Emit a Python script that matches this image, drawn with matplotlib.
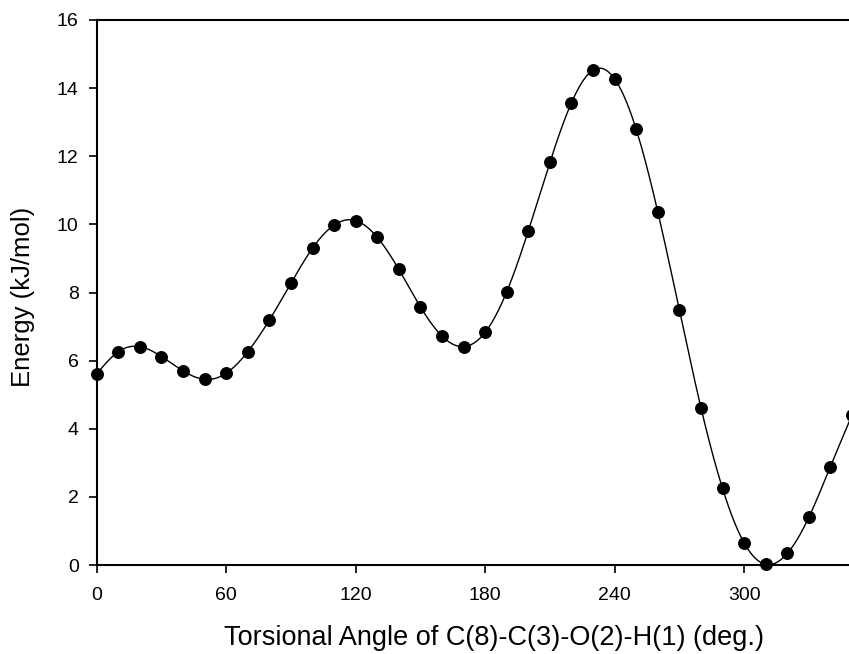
import numpy as np
import matplotlib
matplotlib.use("Agg")
import matplotlib.pyplot as plt

angles = [0, 10, 20, 30, 40, 50, 60, 70, 80, 90, 100, 110, 120, 130, 140, 150, 160, 170,
          180, 190, 200, 210, 220, 230, 240, 250, 260, 270, 280, 290, 300, 310, 320, 330, 340, 350]
energy = [5.61, 6.26, 6.41, 6.12, 5.70, 5.45, 5.63, 6.26, 7.19, 8.27, 9.30, 9.98, 10.11, 9.62,
          8.68, 7.58, 6.72, 6.41, 6.83, 8.02, 9.81, 11.82, 13.57, 14.53, 14.27, 12.79, 10.37,
          7.49, 4.62, 2.25, 0.65, 0.02, 0.34, 1.40, 2.89, 4.40]
xticks = [0, 60, 120, 180, 240, 300]
yticks = [0, 2, 4, 6, 8, 10, 12, 14, 16]


def natural_spline(x, y, xs):
    x = np.asarray(x, float); y = np.asarray(y, float)
    n = len(x)
    h = np.diff(x)
    A = np.zeros((n, n)); b = np.zeros(n)
    A[0, 0] = 1; A[-1, -1] = 1
    for i in range(1, n - 1):
        A[i, i - 1] = h[i - 1]
        A[i, i] = 2 * (h[i - 1] + h[i])
        A[i, i + 1] = h[i]
        b[i] = 3 * ((y[i + 1] - y[i]) / h[i] - (y[i] - y[i - 1]) / h[i - 1])
    c = np.linalg.solve(A, b)
    out = np.empty_like(xs)
    for k, xv in enumerate(xs):
        i = min(max(np.searchsorted(x, xv) - 1, 0), n - 2)
        d = xv - x[i]
        bi = (y[i + 1] - y[i]) / h[i] - h[i] * (2 * c[i] + c[i + 1]) / 3
        di = (c[i + 1] - c[i]) / (3 * h[i])
        out[k] = y[i] + bi * d + c[i] * d ** 2 + di * d ** 3
    return out


plt.rcParams['font.family'] = ['Liberation Sans', 'DejaVu Sans']

fig = plt.figure(figsize=(8.49, 6.54), dpi=100)
W, H = 849, 654
x0, x1 = 96.7, 849
y0, y1 = 565, 20
ax = fig.add_axes([x0 / W, (H - y0) / H, (x1 - x0) / W, (y0 - y1) / H])

xs = np.linspace(angles[0], angles[-1], 1000)
ax.plot(xs, natural_spline(angles, energy, xs), color='black', lw=1.0, zorder=2)
ax.plot(angles, energy, 'o', color='black', ms=8.3, zorder=3, clip_on=False)

ax.set_xlim(0, (x1 - x0) / 2.158)
ax.set_ylim(0, 16)
ax.set_xticks(xticks)
ax.set_yticks(yticks)
ax.spines['right'].set_visible(False)
for s in ['left', 'bottom', 'top']:
    ax.spines[s].set_linewidth(1.5)
ax.tick_params(axis='both', direction='out', length=6, width=1.2, labelsize=14,
               top=False, right=False)
ax.tick_params(axis='x', pad=10)
ax.tick_params(axis='y', pad=7)
ax.set_xlabel('Torsional Angle of C(8)-C(3)-O(2)-H(1) (deg.)', fontsize=19.5, va='center')
ax.set_ylabel('Energy (kJ/mol)', fontsize=18.5, va='center')
ax.xaxis.set_label_coords((494 - x0) / (x1 - x0), (y0 - 638) / (y0 - y1))
ax.yaxis.set_label_coords((23 - x0) / (x1 - x0), (y0 - 297) / (y0 - y1))

fig.savefig('out.png', dpi=100)
